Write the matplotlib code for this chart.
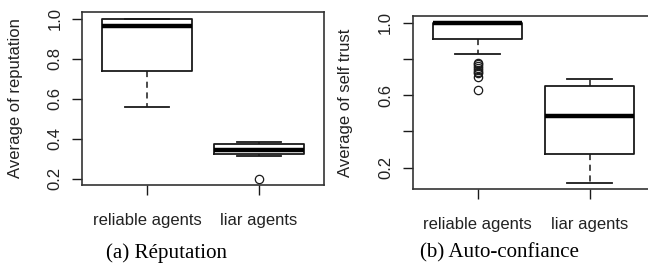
import matplotlib
matplotlib.use("Agg")
import matplotlib.pyplot as plt

# ---- data ----
categories = ["reliable agents", "liar agents"]

# (a) Réputation
rep_med = [0.965, 0.345]
rep_q1 = [0.74, 0.325]
rep_q3 = [1.0, 0.375]
rep_whislo = [0.56, 0.315]
rep_whishi = [1.0, 0.385]
rep_fliers = [[], [0.2]]

# (b) Auto-confiance
st_med = [0.998, 0.485]
st_q1 = [0.91, 0.277]
st_q3 = [1.0, 0.651]
st_whislo = [0.829, 0.117]
st_whishi = [1.0, 0.691]
st_fliers = [[0.78, 0.77, 0.76, 0.75, 0.74, 0.73, 0.72, 0.70, 0.63], []]

ylabels = ["Average of reputation", "Average of self trust"]
captions = ["(a) Réputation", "(b) Auto-confiance"]
yticks = [0.2, 0.4, 0.6, 0.8, 1.0]
yticklabels_a = ["0.2", "0.4", "0.6", "0.8", "1.0"]
yticklabels_b = ["0.2", "", "0.6", "", "1.0"]

plt.rcParams['font.family'] = ['Liberation Sans', 'DejaVu Sans']

W, H = 648, 271
fig = plt.figure(figsize=(W / 100, H / 100), dpi=100)

def px_axes(x0, y0, x1, y1):
    return fig.add_axes([x0 / W, 1 - y1 / H, (x1 - x0) / W, (y1 - y0) / H])

ax1 = px_axes(82, 12, 324, 185)
ax2 = px_axes(412.6, 16, 654.6, 189)

lc = '#1a1a1a'

def draw(ax, med, q1, q3, lo, hi, fl, ylab, yt_labels, ylim, xpad):
    stats = []
    for i in range(len(categories)):
        stats.append(dict(med=med[i], q1=q1[i], q3=q3[i], whislo=lo[i],
                          whishi=hi[i], fliers=fl[i], label=categories[i]))
    ax.bxp(stats, positions=[1, 2], widths=0.8, capwidths=0.4,
           boxprops=dict(color=lc, linewidth=1.3),
           medianprops=dict(color='black', linewidth=3.2, solid_capstyle='butt'),
           whiskerprops=dict(color=lc, linewidth=1.1, linestyle=(0, (4, 3))),
           capprops=dict(color=lc, linewidth=1.3),
           flierprops=dict(marker='o', markerfacecolor='none',
                           markeredgecolor=lc, markersize=6, markeredgewidth=0.9))
    ax.set_xlim(0.42, 2.58)
    ax.set_ylim(*ylim)
    ax.set_yticks(yticks)
    ax.set_yticklabels(yt_labels, rotation=90, va='center')
    ax.set_xticks([1, 2])
    ax.set_xticklabels(categories)
    ax.tick_params(axis='both', direction='out', length=7, width=1.0,
                   colors=lc, labelsize=12, labelcolor='#222222')
    ax.tick_params(axis='x', pad=xpad)
    ax.tick_params(axis='y', pad=7)
    for s in ax.spines.values():
        s.set_color('#333333')
        s.set_linewidth(1.2)
    ax.set_ylabel(ylab, fontsize=12, color='#222222')

draw(ax1, rep_med, rep_q1, rep_q3, rep_whislo, rep_whishi, rep_fliers,
     ylabels[0], yticklabels_a, (0.168, 1.035), 13.5)
draw(ax2, st_med, st_q1, st_q3, st_whislo, st_whishi, st_fliers,
     ylabels[1], yticklabels_b, (0.082, 1.037), 13.5)

ax1.yaxis.set_label_coords((23 - 82) / 242, 0.5)
ax2.yaxis.set_label_coords((353 - 412.6) / 242, 0.5)

fig.text(167 / W, 1 - 253 / H, captions[0], ha='center', va='center',
         fontsize=15.1, family=['Liberation Serif', 'DejaVu Serif'])
fig.text(499 / W, 1 - 253 / H, captions[1], ha='center', va='center',
         fontsize=15.1, family=['Liberation Serif', 'DejaVu Serif'])

fig.savefig("out.png", dpi=100)
